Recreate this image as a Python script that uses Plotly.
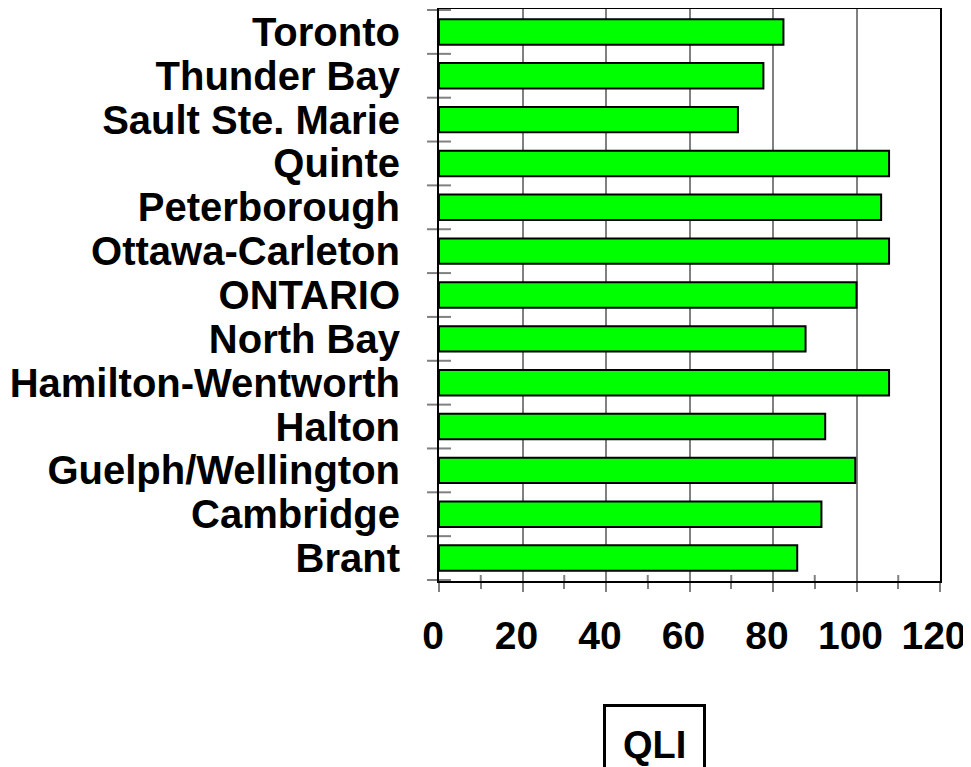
import plotly.graph_objects as go

categories = ["Brant", "Cambridge", "Guelph/Wellington", "Halton", "Hamilton-Wentworth",
              "North Bay", "ONTARIO", "Ottawa-Carleton", "Peterborough", "Quinte",
              "Sault Ste. Marie", "Thunder Bay", "Toronto"]
qli_values = [85.8, 91.6, 99.7, 92.5, 107.8, 87.8, 100.0, 107.8, 105.9, 107.8, 71.6, 77.7, 82.5]
x_tick_values = [0, 20, 40, 60, 80, 100, 120]
x_minor_values = [10, 30, 50, 70, 90, 110]
x_title = "QLI"

FONT = "Liberation Sans, Arial, sans-serif"
GRAY = "#808080"

fig = go.Figure()
fig.add_trace(go.Bar(
    x=qli_values, y=categories, orientation="h",
    marker=dict(color="#00FF00", line=dict(color="black", width=2)),
    showlegend=False,
))

# page has an 8px body margin, so the figure is 8px smaller than the window
W, H = 963, 759
ml, mr, mt, mb = 431, 31, 1, 186
plot_w = W - ml - mr
plot_h = H - mt - mb

shapes = []
# category-boundary ticks crossing the left axis
for k in range(len(categories) + 1):
    shapes.append(dict(type="line", xref="paper", yref="y",
                       x0=-12 / plot_w, x1=12 / plot_w, y0=k - 0.5, y1=k - 0.5,
                       line=dict(color=GRAY, width=2), layer="below"))
# inner half of the minor x ticks (they cross the axis)
for v in x_minor_values:
    shapes.append(dict(type="line", xref="x", yref="paper",
                       x0=v, x1=v, y0=0, y1=6 / plot_h,
                       line=dict(color=GRAY, width=2), layer="below"))

fig.update_layout(
    width=W, height=H,
    margin=dict(l=ml, r=mr, t=mt, b=mb, autoexpand=False),
    plot_bgcolor="white", paper_bgcolor="white",
    bargap=0.42,
    shapes=shapes,
    xaxis=dict(
        range=[0, 120], tickvals=x_tick_values,
        ticktext=[str(v) for v in x_tick_values], automargin=False,
        tickfont=dict(family=FONT, size=39, color="black", weight="bold"),
        showgrid=True, gridcolor=GRAY, gridwidth=2,
        showline=True, linecolor="black", linewidth=2, mirror=True,
        ticks="outside", ticklen=9, tickcolor=GRAY, tickwidth=2,
        minor=dict(tickvals=x_minor_values, ticks="outside", ticklen=6, tickcolor=GRAY,
                   tickwidth=2, showgrid=False),
        ticklabelstandoff=10,
        ticklabelshift=-6,
        zeroline=False,
    ),
    yaxis=dict(
        type="category", categoryorder="array", categoryarray=categories,
        tickmode="array", tickvals=categories, ticktext=categories, automargin=False,
        tickfont=dict(family=FONT, size=40, color="black", weight="bold"),
        showline=True, linecolor="black", linewidth=2, mirror=True,
        ticks="", showgrid=False,
        ticklabelstandoff=29,
    ),
    annotations=[dict(
        text=x_title, xref="paper", yref="paper",
        x=(646.5 - ml) / plot_w, y=-(737 - (H - mb)) / plot_h,
        xanchor="center", yanchor="middle", showarrow=False,
        font=dict(family=FONT, size=38, color="black", weight="bold"),
        bordercolor="black", borderwidth=3, borderpad=17, bgcolor="white",
    )],
)

fig.write_html("out.html")
